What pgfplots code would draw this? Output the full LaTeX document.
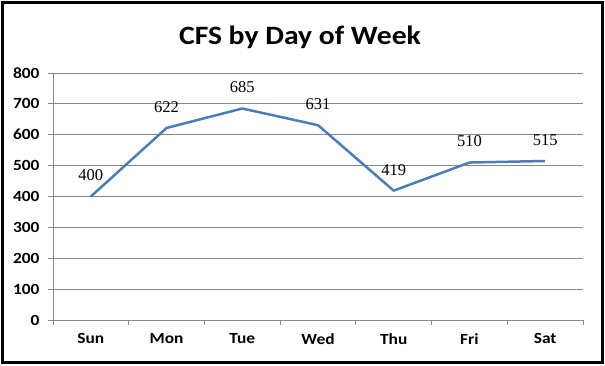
\documentclass[border=0pt]{standalone}
\usepackage{pgfplots}
\pgfplotsset{compat=1.18}
\usepackage{fontspec}
\setmainfont{Carlito}[FakeStretch=1.12]
\newfontfamily\serifnum{Liberation Serif}
\definecolor{serline}{HTML}{4A7EBB}
\definecolor{gridc}{HTML}{878787}
\begin{document}
\begin{tikzpicture}[x=1pt,y=1pt]
\useasboundingbox (0,0) rectangle (605,365);
\draw[line width=3pt] (2.5,2.5) rectangle (602.5,362.5);
\node[font=\fontsize{26.5}{30}\selectfont\bfseries] at (300,328) {CFS by Day of Week};
\begin{axis}[at={(53pt,45pt)}, anchor=south west, scale only axis,
  width=530pt, height=247pt,
  xmin=-0.5, xmax=6.5, ymin=0, ymax=800, ytick={0,100,...,800},
  xtick={0,...,6}, xticklabels={Sun,Mon,Tue,Wed,Thu,Fri,Sat},
  minor xtick={-0.5,0.5,...,6.5},
  axis x line*=bottom, axis y line*=left,
  axis line style={gridc,line width=0.8pt,-},
  ymajorgrids, grid style={gridc, line width=0.8pt},
  tick align=outside, major tick length=5pt, minor tick length=5pt,
  major x tick style={draw=none},
  minor x tick style={gridc, line width=0.8pt},
  y tick style={gridc, line width=0.8pt},
  /pgf/number format/assume math mode=true,
  ticklabel style={font=\fontsize{15.5}{18}\selectfont\bfseries},
  xticklabel style={yshift=-5pt},
  yticklabel style={xshift=-5pt},
  clip=false,
]
\addplot[serline, line width=2.5pt, line join=round, no markers,
  point meta=explicit symbolic,
  nodes near coords,
  nodes near coords style={font=\serifnum\fontsize{16.5}{19}\selectfont, anchor=center, yshift=21pt, text=black}]
  coordinates {(0,400) [400] (1,622) [622] (2,685) [685] (3,631) [631] (4,419) [419] (5,510) [510] (6,515) [515]};
\end{axis}
\end{tikzpicture}
\end{document}
